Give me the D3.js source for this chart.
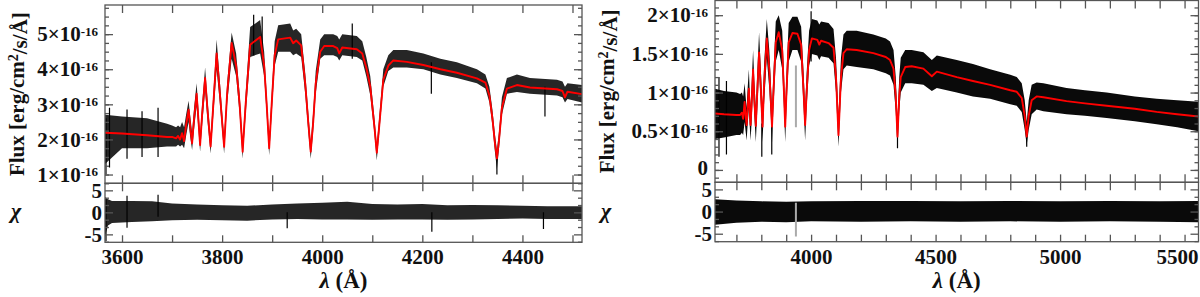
<!DOCTYPE html>
<html>
<head>
<meta charset="utf-8">
<script src="https://cdn.jsdelivr.net/npm/d3@7"></script>
<style>
body { margin:0; background:#fff; }
svg text { font-family:"Liberation Serif", "DejaVu Serif", "Times New Roman", Times, serif; font-weight:bold; fill:#111; }
.frame { fill:none; stroke:#555; stroke-width:1.3; }
.tk line { stroke:#555; stroke-width:1.3; }
.tk path { display:none; }
.tk text { font-size:21px; font-family:"Liberation Serif", "DejaVu Serif", serif; }
</style>
</head>
<body>
<script>

// ---- left spectrum (flux in 1e-16 erg/cm2/s/A) ----
var lamL = [3566,3600,3650,3690,3700,3708,3712,3716,3720,3724,3728,3733,3736,3740,3744,3749,3752,3756,3760,3766,3771,3777,3782,3789,3795,3804,3810,3819,3828,3835,3841,3847,3856,3876,3884,3889,3894,3899,3905,3912,3936,3942,3948,3958,3966,3972,3977,3982,3987,3996,4004,4022,4030,4034,4040,4069,4080,4088,4096,4104,4109,4114,4122,4132,4142,4169,4202,4236,4269,4309,4326,4334,4340,4345,4349,4353,4359,4369,4389,4415,4469,4480,4485,4490,4519];
var modelL = [2.19,2.17,2.12,2.07,2.07,2.03,2.10,2.00,2.18,1.95,2.40,2.85,2.40,1.89,2.60,3.30,2.70,1.84,2.70,3.75,2.80,1.80,2.90,4.45,3.40,1.79,3.30,4.75,4.10,3.00,1.65,3.00,4.70,4.92,4.10,3.00,1.75,3.00,4.40,4.85,4.90,4.74,4.82,4.68,3.60,2.50,1.65,2.50,3.60,4.50,4.66,4.66,4.60,4.45,4.62,4.57,4.45,4.05,3.50,2.40,1.62,2.40,3.70,4.10,4.25,4.21,4.12,4.00,3.90,3.74,3.62,3.25,2.60,1.90,1.46,1.95,2.90,3.45,3.55,3.48,3.43,3.38,3.20,3.36,3.29];
var loL = [1.30,1.75,1.75,1.80,1.80,1.80,1.85,1.80,1.85,1.75,2.10,2.50,2.10,1.70,2.30,2.95,2.40,1.65,2.40,3.40,2.50,1.60,2.60,4.00,3.10,1.60,3.00,4.30,3.80,2.70,1.45,2.70,4.35,4.45,3.80,2.70,1.55,2.70,4.10,4.50,4.50,4.40,4.45,4.35,3.30,2.25,1.45,2.25,3.30,4.30,4.40,4.40,4.35,4.25,4.40,4.35,4.25,3.80,3.25,2.20,1.40,2.20,3.50,3.95,4.05,4.05,4.00,3.85,3.75,3.60,3.45,3.05,2.40,1.65,1.15,1.70,2.70,3.30,3.35,3.30,3.25,3.20,3.05,3.15,3.05];
var hiL = [2.70,2.65,2.60,2.45,2.40,2.35,2.40,2.35,2.50,2.35,2.70,3.10,2.70,2.20,2.90,3.60,3.00,2.10,3.00,4.05,3.10,2.05,3.20,4.85,3.75,2.05,3.60,5.05,4.45,3.30,1.90,3.30,5.20,5.40,4.50,3.30,2.00,3.30,4.80,5.25,5.30,5.10,5.15,5.00,3.90,2.80,1.90,2.80,3.95,4.85,5.00,5.00,4.95,4.85,5.00,4.95,4.80,4.35,3.80,2.65,1.85,2.65,4.00,4.40,4.55,4.55,4.45,4.30,4.20,4.00,3.85,3.50,2.85,2.15,1.70,2.20,3.20,3.75,3.85,3.75,3.70,3.65,3.50,3.60,3.55];
// single noise spikes
var spikeLamL = [3568,3575,3610,3640,3672,3863,3880,4060,4218,4349,4445];
var spikeLoL  = [1.00,1.20,1.45,1.50,1.50,4.40,4.40,4.30,3.30,1.00,2.65];
var spikeHiL  = [2.60,2.90,2.85,2.80,2.90,5.55,5.50,5.30,4.20,1.50,3.50];
// residuals
var chiLamL = [3566,3572,3580,3620,3660,3700,3750,3800,3850,3900,3950,4000,4050,4100,4150,4200,4250,4300,4350,4400,4450,4519];
var chiLoL  = [-5.5,-3.0,-2.4,-2.2,-2.0,-1.8,-1.7,-1.8,-1.9,-1.6,-1.5,-1.6,-1.6,-1.7,-1.6,-1.6,-1.7,-1.6,-1.5,-1.4,-1.5,-1.5];
var chiHiL  = [3.5,3.0,2.6,2.6,2.5,2.0,1.8,1.6,1.5,1.8,2.0,2.2,2.4,1.9,1.8,1.9,1.6,1.7,1.6,1.5,1.4,1.4];
var chiSpikeLamL = [3568,3610,3672,3930,4219,4442];
var chiSpikeLoL  = [-6.5,-3.5,-1.0,-3.6,-4.4,-3.8];
var chiSpikeHiL  = [3.0,3.8,4.0,0.0,0.0,0.0];

// ---- right spectrum ----
var lamR = [3614,3650,3700,3715,3722,3727,3733,3737,3741,3745,3750,3753,3757,3761,3767,3772,3778,3783,3791,3798,3805,3811,3822,3832,3838,3843,3848,3858,3870,3884,3891,3896,3901,3910,3925,3945,3960,3970,3976,3982,3992,4003,4025,4033,4040,4070,4090,4100,4110,4120,4130,4143,4183,4250,4300,4317,4331,4340,4347,4354,4360,4378,4404,4451,4485,4505,4585,4650,4719,4800,4826,4846,4858,4866,4874,4886,4906,4933,5026,5100,5187,5300,5388,5470,5556];
var modelR = [0.73,0.72,0.71,0.71,0.74,0.66,0.88,0.70,0.58,0.80,1.05,0.80,0.58,0.85,1.30,0.90,0.57,0.95,1.52,1.05,0.56,1.10,1.70,1.30,0.90,0.56,0.95,1.65,1.78,1.55,1.00,0.56,1.00,1.65,1.77,1.76,1.62,1.00,0.58,1.00,1.55,1.70,1.68,1.62,1.67,1.64,1.58,1.20,0.45,1.20,1.51,1.56,1.55,1.51,1.46,1.42,1.31,0.95,0.43,0.95,1.20,1.33,1.34,1.31,1.21,1.27,1.20,1.15,1.10,1.03,1.01,0.93,0.70,0.43,0.70,0.90,0.95,0.94,0.89,0.86,0.83,0.79,0.75,0.72,0.69];
var loR = [0.40,0.42,0.45,0.45,0.48,0.45,0.62,0.50,0.38,0.58,0.80,0.60,0.38,0.62,1.05,0.70,0.36,0.72,1.28,0.85,0.36,0.85,1.45,1.05,0.70,0.35,0.75,1.40,1.55,1.30,0.80,0.36,0.80,1.40,1.55,1.55,1.40,0.80,0.38,0.80,1.35,1.50,1.48,1.42,1.47,1.45,1.38,1.00,0.30,1.00,1.30,1.35,1.33,1.30,1.25,1.22,1.10,0.75,0.30,0.75,1.00,1.12,1.12,1.10,1.02,1.06,1.00,0.95,0.92,0.85,0.83,0.75,0.52,0.32,0.52,0.72,0.78,0.76,0.72,0.70,0.67,0.63,0.59,0.55,0.50];
var hiR = [1.05,1.02,1.00,0.98,1.00,0.95,1.12,0.95,0.80,1.05,1.30,1.05,0.80,1.10,1.55,1.15,0.80,1.20,1.78,1.30,0.80,1.35,1.95,1.55,1.15,0.80,1.20,1.92,2.00,1.80,1.25,0.80,1.25,1.90,1.98,1.98,1.85,1.25,0.80,1.25,1.80,1.95,1.93,1.88,1.92,1.90,1.82,1.45,0.70,1.45,1.75,1.80,1.80,1.75,1.70,1.66,1.55,1.20,0.65,1.20,1.45,1.55,1.55,1.52,1.42,1.48,1.42,1.37,1.30,1.23,1.20,1.12,0.90,0.62,0.90,1.10,1.13,1.12,1.06,1.03,1.00,0.95,0.92,0.90,0.88];
var spikeLamR = [3630,3660,3802,3842,4000,4347,4866];
var spikeLoR  = [0.17,0.20,0.17,0.20,1.40,0.28,0.30];
var spikeHiR  = [1.20,1.15,0.60,0.60,2.05,0.60,0.60];
var chiLamR = [3614,3700,3800,3900,4000,4200,4400,4600,4800,5000,5200,5400,5556];
var chiLoR  = [-3.0,-2.5,-2.3,-2.4,-2.2,-2.3,-2.2,-2.3,-2.2,-2.3,-2.2,-2.3,-2.4];
var chiHiR  = [2.8,2.5,2.3,2.2,2.3,2.4,2.4,2.3,2.4,2.3,2.4,2.3,2.4];
// masked (grey) points
var maskLamR = [3939];
var maskFluxLoR = [0.55], maskFluxHiR = [1.35];
var maskChiLoR = [-5.6], maskChiHiR = [2.0];

// ---- ticks ----
var xTicksL = [3600, 3800, 4000, 4200, 4400];
var xTicksR = [4000, 4500, 5000, 5500];
var fluxTicksL = [1, 2, 3, 4, 5], fluxLabelsL = ["1", "2", "3", "4", "5"];
var fluxTicksR = [0, 0.5, 1, 1.5, 2], fluxLabelsR = ["0", "0.5", "1", "1.5", "2"];
var chiTicks = [-5, 0, 5], chiLabels = ["-5", "0", "5"];

function pts(lam, a, b, c) {
  return lam.map((l, i) => ({lam:l, a:a[i], b:b ? b[i] : 0, c:c ? c[i] : 0}));
}

var panels = [
  {x0:105, x1:582, fy0:5, fy1:183.3, ry1:242.3, xdom:[3566,4519], fdom:[0.75,5.83], rdom:[-6.8,6.6],
   xAll:d3.range(3600, 4501, 100), xLab:xTicksL, fT:fluxTicksL, fL:fluxLabelsL, fMinor:0.25,
   spec:pts(lamL, modelL, loL, hiL), spikes:pts(spikeLamL, spikeLoL, spikeHiL),
   chi:pts(chiLamL, chiLoL, chiHiL), chiSpikes:pts(chiSpikeLamL, chiSpikeLoL, chiSpikeHiL),
   mask:[], maskChi:[], titleX:17, ink:"#262626"},
  {x0:715, x1:1198.5, fy0:0.5, fy1:182.3, ry1:241.7, xdom:[3614,5556], fdom:[-0.16,2.19], rdom:[-6.8,6.6],
   xAll:d3.range(3700, 5501, 100), xLab:xTicksR, fT:fluxTicksR, fL:fluxLabelsR, fMinor:0.1,
   spec:pts(lamR, modelR, loR, hiR), spikes:pts(spikeLamR, spikeLoR, spikeHiR),
   chi:pts(chiLamR, chiLoR, chiHiR), chiSpikes:[],
   mask:pts(maskLamR, maskFluxLoR, maskFluxHiR), maskChi:pts(maskLamR, maskChiLoR, maskChiHiR), titleX:607, ink:"#0a0a0a"}
];

var svg = d3.select("body").append("svg")
    .attr("width", 1200)
    .attr("height", 297);

panels.forEach(function(p, k) {
  var x = d3.scaleLinear().domain(p.xdom).range([p.x0, p.x1]);
  var y = d3.scaleLinear().domain(p.fdom).range([p.fy1, p.fy0]);
  var yc = d3.scaleLinear().domain(p.rdom).range([p.ry1, p.fy1]);

  var defs = svg.append("defs");
  defs.append("clipPath").attr("id", "cf" + k).append("rect")
      .attr("x", p.x0).attr("y", p.fy0).attr("width", p.x1 - p.x0).attr("height", p.fy1 - p.fy0);
  defs.append("clipPath").attr("id", "cr" + k).append("rect")
      .attr("x", p.x0).attr("y", p.fy1).attr("width", p.x1 - p.x0).attr("height", p.ry1 - p.fy1);

  // flux panel: observed spectrum band, spikes, model
  var gf = svg.append("g").attr("clip-path", "url(#cf" + k + ")");
  gf.append("path").datum(p.spec)
      .attr("fill", p.ink)
      .attr("d", d3.area().x(d => x(d.lam)).y0(d => y(d.b)).y1(d => y(d.c)));
  gf.selectAll("line.sp").data(p.spikes).enter().append("line")
      .attr("x1", d => x(d.lam)).attr("x2", d => x(d.lam))
      .attr("y1", d => y(d.a)).attr("y2", d => y(d.b))
      .attr("stroke", "#000").attr("stroke-width", 1.2);
  gf.selectAll("line.mk").data(p.mask).enter().append("line")
      .attr("x1", d => x(d.lam)).attr("x2", d => x(d.lam))
      .attr("y1", d => y(d.a)).attr("y2", d => y(d.b))
      .attr("stroke", "#aaa").attr("stroke-width", 2);
  gf.append("path").datum(p.spec)
      .attr("fill", "none").attr("stroke", "#ff0000").attr("stroke-width", 1.9)
      .attr("stroke-linejoin", "round")
      .attr("d", d3.line().x(d => x(d.lam)).y(d => y(d.a)));

  // residual panel
  var gr = svg.append("g").attr("clip-path", "url(#cr" + k + ")");
  gr.append("path").datum(p.chi)
      .attr("fill", p.ink)
      .attr("d", d3.area().x(d => x(d.lam)).y0(d => yc(d.a)).y1(d => yc(d.b)));
  gr.selectAll("line.sp").data(p.chiSpikes).enter().append("line")
      .attr("x1", d => x(d.lam)).attr("x2", d => x(d.lam))
      .attr("y1", d => yc(d.a)).attr("y2", d => yc(d.b))
      .attr("stroke", "#000").attr("stroke-width", 1.2);
  gr.selectAll("line.mk").data(p.maskChi).enter().append("line")
      .attr("x1", d => x(d.lam)).attr("x2", d => x(d.lam))
      .attr("y1", d => yc(d.a)).attr("y2", d => yc(d.b))
      .attr("stroke", "#aaa").attr("stroke-width", 2);

  // x ticks, inside on all edges
  [[d3.axisTop, p.fy0], [d3.axisBottom, p.fy1], [d3.axisTop, p.fy1]].forEach(function(a) {
    svg.append("g").attr("class", "tk").attr("transform", `translate(0,${a[1]})`)
      .call(a[0](x).tickValues(p.xAll).tickSize(-8).tickFormat(""));
  });
  var xb = svg.append("g").attr("class", "tk").attr("transform", `translate(0,${p.ry1})`)
    .call(d3.axisBottom(x).tickValues(p.xAll).tickSize(-7).tickPadding(7)
      .tickFormat(d => p.xLab.indexOf(d) >= 0 ? d : ""));
  // last label kept inside the picture
  xb.selectAll(".tick text").filter(d => x(d) + 22 > 1200)
      .attr("text-anchor", "end").attr("x", d => 1198 - x(d));

  // flux y ticks
  var fMin = d3.range(Math.ceil(p.fdom[0] / p.fMinor) * p.fMinor, p.fdom[1], p.fMinor);
  [[d3.axisLeft, p.x0], [d3.axisRight, p.x1]].forEach(function(a) {
    svg.append("g").attr("class", "tk").attr("transform", `translate(${a[1]},0)`)
      .call(a[0](y).tickValues(fMin).tickSize(-4).tickFormat(""));
  });
  svg.append("g").attr("class", "tk").attr("transform", `translate(${p.x1},0)`)
    .call(d3.axisRight(y).tickValues(p.fT).tickSize(-8).tickFormat(""));
  var fl = svg.append("g").attr("class", "tk").attr("transform", `translate(${p.x0},0)`)
    .call(d3.axisLeft(y).tickValues(p.fT).tickSize(-8).tickPadding(7).tickFormat((d, i) => p.fL[i]));
  fl.selectAll(".tick text").each(function(d, i) {
    var t = d3.select(this), s = p.fL[i];
    if (s === "0") { t.attr("dy", "0.2em"); return; }
    t.text(null);
    t.append("tspan").text(s + "\u00d710");
    t.append("tspan").attr("dy", "-0.42em").attr("font-size", "13px").text("-16");
  });

  // residual y ticks
  var cMin = [-6.667, -3.333, -1.667, 1.667, 3.333];
  [[d3.axisLeft, p.x0], [d3.axisRight, p.x1]].forEach(function(a) {
    svg.append("g").attr("class", "tk").attr("transform", `translate(${a[1]},0)`)
      .call(a[0](yc).tickValues(cMin).tickSize(-4).tickFormat(""));
  });
  svg.append("g").attr("class", "tk").attr("transform", `translate(${p.x1},0)`)
    .call(d3.axisRight(yc).tickValues(chiTicks).tickSize(-8).tickFormat(""));
  svg.append("g").attr("class", "tk").attr("transform", `translate(${p.x0},0)`)
    .call(d3.axisLeft(yc).tickValues(chiTicks).tickSize(-8).tickPadding(3).tickFormat((d, i) => chiLabels[i]));

  // frames
  svg.append("rect").attr("class", "frame")
      .attr("x", p.x0).attr("y", p.fy0).attr("width", p.x1 - p.x0).attr("height", p.fy1 - p.fy0);
  svg.append("rect").attr("class", "frame")
      .attr("x", p.x0).attr("y", p.fy1).attr("width", p.x1 - p.x0).attr("height", p.ry1 - p.fy1);

  // titles
  var ty = svg.append("text")
      .attr("transform", `translate(${p.titleX + 7},${(p.fy0 + p.fy1) / 2}) rotate(-90)`)
      .attr("text-anchor", "middle").attr("font-size", "21px");
  ty.append("tspan").text("Flux [erg/cm");
  ty.append("tspan").attr("dy", "-0.4em").attr("font-size", "14px").text("2");
  ty.append("tspan").attr("dy", "0.4em").text("/s/\u00c5]");

  svg.append("text").attr("x", p.titleX - 1).attr("y", 218)
      .attr("text-anchor", "middle").attr("font-size", "22px")
      .attr("font-style", "italic").attr("font-weight", "normal").text("\u03c7");

  var tx = svg.append("text").attr("x", (p.x0 + p.x1) / 2).attr("y", 288)
      .attr("text-anchor", "middle").attr("font-size", "23px");
  tx.append("tspan").attr("font-style", "italic").text("\u03bb");
  tx.append("tspan").text(" (\u00c5)");
});

</script>
</body>
</html>
